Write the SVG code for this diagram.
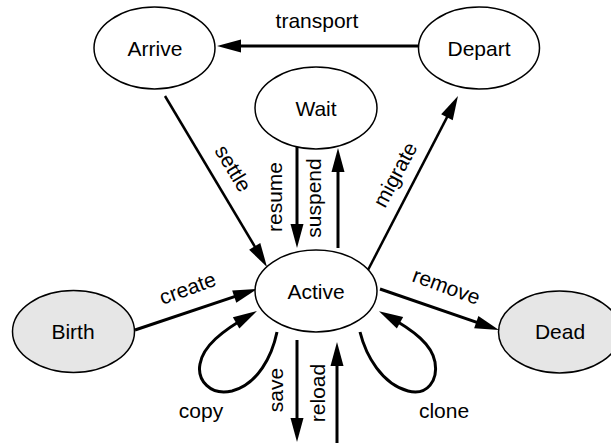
<svg xmlns="http://www.w3.org/2000/svg" width="611" height="443" viewBox="0 0 611 443">
<defs>
<style>
.node ellipse{fill:#fff;stroke:#000;stroke-width:1.5}
.node.term ellipse{fill:#e6e6e6}
.node text{font-family:"Liberation Sans",Arial,Helvetica,sans-serif;font-size:21px;text-anchor:middle;fill:#000}
.edge{fill:none;stroke:#000;stroke-width:3;marker-end:url(#arrow)}
.thin{stroke-width:2.5}
.lbl{font-family:"Liberation Sans",Arial,Helvetica,sans-serif;font-size:21px;text-anchor:middle;fill:#000}
</style>
<marker id="arrow" markerUnits="userSpaceOnUse" markerWidth="26" markerHeight="14" refX="16" refY="6.5" orient="auto" overflow="visible">
<path d="M0,0 L24,6.5 L0,13 Z" fill="#000"/>
</marker>
</defs>
<rect width="611" height="443" fill="#fff"/>
<g id="connectors">
<path class="edge" d="M419,46 L225,46"/>
<path class="edge thin" d="M165,96 L262.9,260.1"/>
<path class="edge" d="M297,147 L297,240"/>
<path class="edge" d="M338,248 L338,156"/>
<path class="edge thin" d="M368,270 L454.3,103.1"/>
<path class="edge" d="M135,330 L249.4,291.6"/>
<path class="edge" d="M380,289 L491.4,327.4"/>
<path class="edge" d="M297,340 L297,434"/>
<path class="edge" d="M337,446 L337,350"/>
<path class="edge" d="M277,332 C272,356 258,384 232,391 C210,396 197,380 200,364 C203,346 222,331 250,315"/>
<path class="edge" d="M360,332 C366,356 382,384 408,391 C428,396 438,380 435,362 C432,345 415,331 386,315"/>
<text class="lbl" x="317" y="28">transport</text>
<text class="lbl" transform="translate(227,172) rotate(59)">settle</text>
<text class="lbl" transform="translate(282,197) rotate(-90)">resume</text>
<text class="lbl" transform="translate(321,198) rotate(-90)">suspend</text>
<text class="lbl" transform="translate(401.5,178) rotate(-62)">migrate</text>
<text class="lbl" transform="translate(190,295) rotate(-20)">create</text>
<text class="lbl" transform="translate(444,293) rotate(20)">remove</text>
<text class="lbl" transform="translate(283,390) rotate(-90)">save</text>
<text class="lbl" transform="translate(325,393) rotate(-90)">reload</text>
<text class="lbl" x="201" y="418">copy</text>
<text class="lbl" x="444" y="418">clone</text>
</g>
<g id="arrive" class="node"><ellipse cx="154.5" cy="48" rx="60.5" ry="41"/><text x="155" y="55.5">Arrive</text></g>
<g id="depart" class="node"><ellipse cx="479" cy="48" rx="60.5" ry="41"/><text x="479" y="55.5">Depart</text></g>
<g id="wait" class="node"><ellipse cx="316" cy="108" rx="61" ry="41"/><text x="316" y="115.5">Wait</text></g>
<g id="active" class="node"><ellipse cx="316" cy="291" rx="61" ry="41"/><text x="316" y="298.5">Active</text></g>
<g id="birth" class="node term"><ellipse cx="73.5" cy="331.5" rx="61" ry="41"/><text x="73" y="338.5">Birth</text></g>
<g id="dead" class="node term"><ellipse cx="559.5" cy="332" rx="61" ry="41"/><text x="560" y="339">Dead</text></g>
</svg>
